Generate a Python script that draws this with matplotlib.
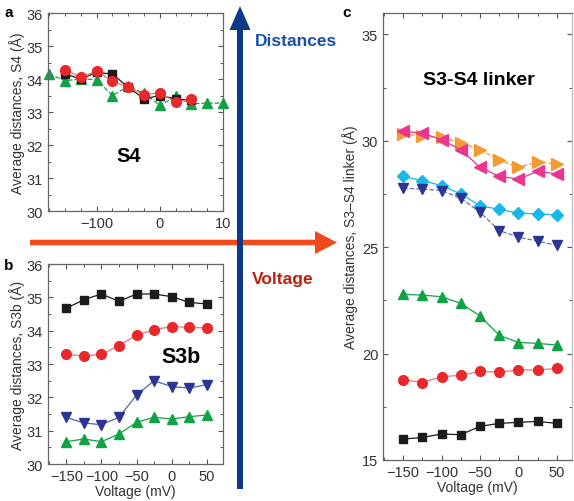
import numpy as np
import matplotlib.pyplot as plt
from matplotlib.patches import FancyArrow
from matplotlib.ticker import MultipleLocator

plt.rcParams['font.family'] = ['Liberation Sans', 'DejaVu Sans']

# ---- data ----
volt = [-150, -125, -100, -75, -50, -25, 0, 25, 50]
volt_a_green = [-175, -150, -125, -100, -75, -50, -25, 0, 25, 50, 75, 100]

s4_black = [34.15, 34.0, 34.2, 34.15, 33.75, 33.4, 33.5, 33.4, 33.35]
s4_red = [34.28, 34.05, 34.25, 33.93, 33.75, 33.53, 33.58, 33.3, 33.38]
s4_green = [34.15, 33.95, 34.0, 33.98, 33.5, 33.78, 33.57, 33.2, 33.47, 33.25, 33.27, 33.27]

s3b_black = [34.67, 34.93, 35.1, 34.88, 35.1, 35.1, 35.02, 34.85, 34.8]
s3b_red = [33.29, 33.24, 33.29, 33.55, 33.87, 34.03, 34.12, 34.1, 34.08]
s3b_blue = [31.4, 31.23, 31.18, 31.4, 32.07, 32.5, 32.32, 32.28, 32.38]
s3b_green = [30.67, 30.75, 30.67, 30.9, 31.25, 31.4, 31.35, 31.42, 31.47]

lk_orange = [30.31, 30.23, 30.16, 29.9, 29.58, 29.1, 28.75, 29.02, 28.9]
lk_magenta = [30.44, 30.36, 30.05, 29.58, 28.75, 28.33, 28.2, 28.56, 28.44]
lk_cyan = [28.33, 28.13, 27.89, 27.5, 26.95, 26.77, 26.6, 26.56, 26.52]
lk_navy = [27.77, 27.73, 27.66, 27.3, 26.64, 25.78, 25.47, 25.28, 25.08]
lk_green = [22.78, 22.75, 22.67, 22.36, 21.77, 20.86, 20.52, 20.48, 20.4]
lk_red = [18.77, 18.64, 18.91, 18.98, 19.16, 19.13, 19.23, 19.23, 19.3]
lk_black = [15.98, 16.06, 16.22, 16.19, 16.58, 16.72, 16.77, 16.81, 16.72]

BLACK = '#1c1c1c'
RED = '#e8282b'
GREEN = '#12a246'
NAVY = '#2d3592'
ORANGE = '#f39a30'
MAGENTA = '#ea3690'
CYAN = '#18b9ea'
TXT = '#333333'

W, H = 574, 502
fig = plt.figure(figsize=(W / 100, H / 100), dpi=100)


def frame(ax, xlim, ylim, ymajor, yminor):
    ax.set_xlim(xlim)
    ax.set_ylim(ylim)
    ax.yaxis.set_major_locator(MultipleLocator(ymajor))
    ax.yaxis.set_minor_locator(MultipleLocator(yminor))
    ax.xaxis.set_minor_locator(MultipleLocator(25))
    ax.tick_params(which='both', direction='in', top=True, right=True,
                   colors='#555555', labelcolor=TXT, labelsize=10.5)
    ax.tick_params(which='major', length=3.5, width=0.8)
    ax.tick_params(which='minor', length=2, width=0.7)
    for sp in ax.spines.values():
        sp.set_color('#666666')
        sp.set_linewidth(0.9)


def series(ax, x, y, color, marker, ms, ls='-', lc=None):
    ax.plot(x, y, ls, color=lc or color, lw=0.9, marker=marker, ms=ms,
            mfc=color, mec=color, clip_on=False)


TITLE_FONT = dict(fontweight='bold', ha='center', va='center')

# ---- panel a ----
axa = fig.add_axes([48 / W, 1 - 212 / H, 175 / W, 198 / H])
frame(axa, (-177, 100), (30, 36), 1, 0.5)
axa.set_xticks([-100, 0, 100])
axa.set_xticklabels(['\u2212100', '0', '10'])
series(axa, volt_a_green, s4_green, GREEN, '^', 7.5, '--')
series(axa, volt, s4_black, BLACK, 's', 6)
series(axa, volt, s4_red, RED, 'o', 7, '-', '#f07070')
axa.set_ylabel('Average distances, S4 (\u00c5)', fontsize=10, color=TXT, labelpad=1)
axa.text(0.463, 0.28, 'S4', transform=axa.transAxes, fontsize=14.5, **TITLE_FONT)

# ---- panel b ----
axb = fig.add_axes([48 / W, 1 - 465 / H, 175 / W, 200 / H])
frame(axb, (-176, 73), (30, 36), 1, 0.5)
axb.set_xticks([-150, -100, -50, 0, 50])
axb.set_xticklabels(['\u2212150', '\u2212100', '\u221250', '0', '50'])
series(axb, volt, s3b_black, BLACK, 's', 6)
series(axb, volt, s3b_red, RED, 'o', 7, '-', '#f07070')
series(axb, volt, s3b_blue, NAVY, 'v', 7.5, '-', '#5560b0')
series(axb, volt, s3b_green, GREEN, '^', 7.5)
axb.set_ylabel('Average distances, S3b (\u00c5)', fontsize=10, color=TXT, labelpad=1)
axb.set_xlabel('Voltage (mV)', fontsize=10, color=TXT, labelpad=1)
axb.text(0.76, 0.535, 'S3b', transform=axb.transAxes, fontsize=15.5, **TITLE_FONT)

# ---- panel c ----
axc = fig.add_axes([383 / W, 1 - 461 / H, 189 / W, 447 / H])
frame(axc, (-176, 69.5), (15, 36), 5, 2.5)
axc.set_xticks([-150, -100, -50, 0, 50])
axc.set_xticklabels(['\u2212150', '\u2212100', '\u221250', '0', '50'])
series(axc, volt, lk_orange, ORANGE, '>', 8, '--')
series(axc, volt, lk_magenta, MAGENTA, '<', 8)
series(axc, volt, lk_cyan, CYAN, 'D', 6.5)
series(axc, volt, lk_navy, NAVY, 'v', 7.5, '--', '#6a70b8')
series(axc, volt, lk_green, GREEN, '^', 7.5)
series(axc, volt, lk_red, RED, 'o', 7, '-', '#f07070')
series(axc, volt, lk_black, BLACK, 's', 6)
axc.spines['right'].set_color('#bbbbbb')
axc.set_ylabel('Average distances, S3\u2013S4 linker (\u00c5)', fontsize=10, color=TXT,
               labelpad=3)
axc.set_xlabel('Voltage (mV)', fontsize=10, color=TXT, labelpad=1)
axc.text(0.505, 0.852, 'S3-S4 linker', transform=axc.transAxes, fontsize=14, **TITLE_FONT)

# ---- overlay: arrows and panel letters ----
ov = fig.add_axes([0, 0, 1, 1])
ov.set_xlim(0, W)
ov.set_ylim(H, 0)
ov.axis('off')
ov.add_patch(FancyArrow(30, 243.5, 307, 0, width=5.5, head_width=23, head_length=22,
                        length_includes_head=True, color='#f2481c', lw=0))
ov.add_patch(FancyArrow(240, 490, 0, -483, width=6, head_width=21, head_length=24,
                        length_includes_head=True, color='#0c3a88', lw=0))
ov.text(255, 42, 'Distances', color='#1a4fae', fontsize=12.5, fontweight='bold',
        ha='left', va='center')
ov.text(252, 280, 'Voltage', color='#b8200f', fontsize=12.5, fontweight='bold',
        ha='left', va='center')
for lbl, x, y in [('a', 9, 13), ('b', 9, 266), ('c', 347, 13)]:
    ov.text(x, y, lbl, fontsize=11, fontweight='bold', ha='center', va='center')

fig.savefig('out.png', dpi=100)
